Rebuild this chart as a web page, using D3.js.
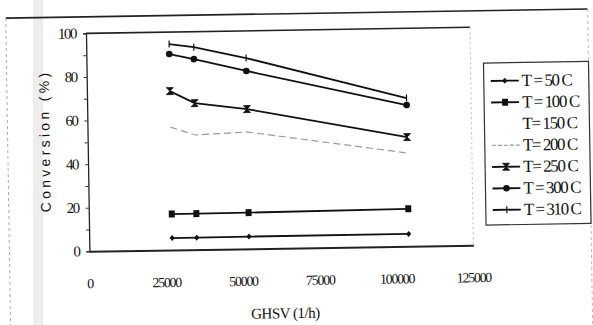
<!DOCTYPE html>
<html>
<head>
<meta charset="utf-8">
<script src="https://cdn.jsdelivr.net/npm/d3@7"></script>
<style>
  body { margin: 0; background: #fff; }
  svg { display: block; }
  text { font-family: "Liberation Serif", "DejaVu Serif", serif; fill: #111; }
  text.sans { font-family: "Liberation Sans", Arial, sans-serif; }
</style>
</head>
<body>
<svg id="chart" width="593" height="325"></svg>
<script>
// GHSV (1/h) at the measured points
const ghsv = [27000, 35000, 52000, 104000];
const seriesNames = ["T = 50 C", "T = 100 C", "T= 150 C", "T= 200 C", "T= 250 C", "T = 300 C", "T = 310 C"];
const t50 = [5.5, 5.5, 5.6, 5.7];
const t100 = [16.5, 16.5, 16.6, 17.2];
const t150 = [];
const t200 = [56.4, 52.6, 53.6, 42.8];
const t250 = [72.9, 67.2, 64.1, 50.1];
const t300 = [89.9, 87.4, 81.6, 64.8];
const t310 = [94.5, 92.9, 87.5, 68];
const xTicks = [0, 25000, 50000, 75000, 100000, 125000];
const yTicks = [0, 20, 40, 60, 80, 100];

const svg = d3.select("#chart");

// scan shadow on the left
svg.append("rect").attr("x", 33).attr("y", 0).attr("width", 10).attr("height", 325)
  .attr("fill", "#ededed");

// whole picture is scanned a little crooked
const root = svg.append("g").attr("transform", "rotate(-0.9,300,160)");

// outer chart frame
root.append("line").attr("x1", 8).attr("x2", 590).attr("y1", 13.5).attr("y2", 13.5)
  .attr("stroke", "#222").attr("stroke-width", 1.6);
root.append("line").attr("x1", 8).attr("x2", 8).attr("y1", 13.5).attr("y2", 330)
  .attr("stroke", "#aaa").attr("stroke-width", 1).attr("stroke-dasharray", "3,3");
root.append("line").attr("x1", 590).attr("x2", 590).attr("y1", 13.5).attr("y2", 330)
  .attr("stroke", "#bbb").attr("stroke-width", 1).attr("stroke-dasharray", "3,3");

const x = d3.scaleLinear().domain([0, 125000]).range([88, 472]);
const y = d3.scaleLinear().domain([0, 100]).range([248, 30]);

// plot box: top line solid, right side faint
root.append("line").attr("x1", x(0)).attr("x2", x(125000)).attr("y1", y(100)).attr("y2", y(100))
  .attr("stroke", "#222").attr("stroke-width", 1.6);
root.append("line").attr("x1", x(125000)).attr("x2", x(125000)).attr("y1", y(100)).attr("y2", y(0))
  .attr("stroke", "#bbb").attr("stroke-width", 1).attr("stroke-dasharray", "2,3");

// y axis
const yAxis = root.append("g").attr("transform", `translate(${x(0)},0)`)
  .call(d3.axisLeft(y).tickValues(d3.range(0, 101, 10)).tickSize(3).tickFormat(""));
yAxis.select(".domain").attr("stroke", "#222").attr("stroke-width", 1.3);
yAxis.selectAll(".tick line").attr("stroke", "#333");
root.selectAll(".ylab").data(yTicks).enter().append("text")
  .attr("x", 78).attr("y", d => y(d) + 5)
  .attr("text-anchor", "end")
  .attr("font-size", 15).attr("letter-spacing", -1.5)
  .text(d => d);

// x axis
const xAxis = root.append("g").attr("transform", `translate(0,${y(0)})`)
  .call(d3.axisBottom(x).tickValues(xTicks).tickSize(0).tickFormat(""));
xAxis.select(".domain").attr("stroke", "#222").attr("stroke-width", 2);
root.selectAll(".xlab").data(xTicks).enter().append("text")
  .attr("x", d => x(d)).attr("y", 285)
  .attr("text-anchor", "middle")
  .attr("font-size", 14).attr("letter-spacing", -1.3)
  .text(d => d);

// titles
root.append("text").attr("x", 283).attr("y", 318).attr("text-anchor", "middle")
  .attr("font-size", 15).attr("letter-spacing", -0.5)
  .text("GHSV (1/h)");
root.append("text").attr("class", "sans")
  .attr("transform", "translate(50,137) rotate(-90)").attr("text-anchor", "middle")
  .attr("font-size", 14).attr("letter-spacing", 3.3)
  .text("Conversion (%)");

// marker shapes
const markers = {
  diamond: g => g.append("path").attr("d", "M0,-3L2.6,0L0,3L-2.6,0Z").attr("fill", "#111"),
  square: g => g.append("rect").attr("x", -3).attr("y", -3.5).attr("width", 6).attr("height", 7).attr("fill", "#111"),
  none: g => g,
  bowtie: g => g.append("path").attr("d", "M-3.5,-3.5L3.5,-3.5L-3.5,3.5L3.5,3.5Z").attr("fill", "#111")
    .attr("stroke", "#111").attr("stroke-width", 0.8),
  circle: g => g.append("circle").attr("r", 3.3).attr("fill", "#111"),
  plus: g => g.append("path").attr("d", "M0,-3.5V3.5").attr("stroke", "#111").attr("stroke-width", 1.2)
};

const series = [
  { name: seriesNames[0], values: t50, color: "#111", width: 1.8, dash: null, marker: "diamond" },
  { name: seriesNames[1], values: t100, color: "#111", width: 1.8, dash: null, marker: "square" },
  { name: seriesNames[2], values: t150, color: "none", width: 0, dash: null, marker: "none" },
  { name: seriesNames[3], values: t200, color: "#9a9a9a", width: 1.2, dash: "7,4", marker: "none" },
  { name: seriesNames[4], values: t250, color: "#111", width: 1.8, dash: null, marker: "bowtie" },
  { name: seriesNames[5], values: t300, color: "#111", width: 1.8, dash: null, marker: "circle" },
  { name: seriesNames[6], values: t310, color: "#111", width: 1.8, dash: null, marker: "plus" }
];

const line = d3.line().x((d, i) => x(ghsv[i])).y(d => y(d));

series.forEach(s => {
  if (!s.values.length) return;
  root.append("path").datum(s.values)
    .attr("d", line).attr("fill", "none")
    .attr("stroke", s.color).attr("stroke-width", s.width)
    .attr("stroke-dasharray", s.dash);
  s.values.forEach((v, i) => {
    const g = root.append("g").attr("transform", `translate(${x(ghsv[i])},${y(v)})`);
    markers[s.marker](g);
  });
});

// legend
const leg = root.append("g");
leg.append("rect").attr("x", 485).attr("y", 66).attr("width", 105).attr("height", 162)
  .attr("fill", "#fff").attr("stroke", "#333").attr("stroke-width", 1.2);
const legY = d3.scalePoint().domain(seriesNames).range([84, 213]);
series.forEach(s => {
  const yy = legY(s.name);
  if (s.width) {
    leg.append("line").attr("x1", 492).attr("x2", 520).attr("y1", yy).attr("y2", yy)
      .attr("stroke", s.color).attr("stroke-width", s.width).attr("stroke-dasharray", s.dash ? "4,2" : null);
  }
  const g = leg.append("g").attr("transform", `translate(506,${yy})`);
  markers[s.marker](g);
  leg.append("text").attr("x", 523).attr("y", yy + 5.5)
    .attr("font-size", 17).attr("letter-spacing", -1.4)
    .text(s.name);
});
</script>
</body>
</html>
